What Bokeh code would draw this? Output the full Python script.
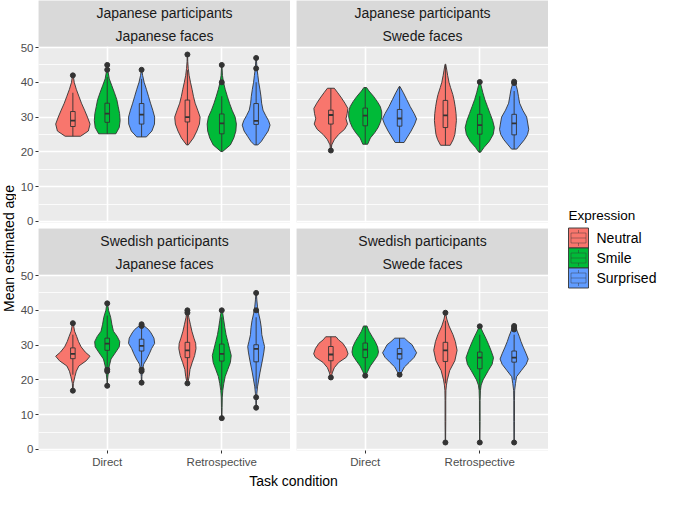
import numpy as np
from bokeh.plotting import figure
from bokeh.layouts import row, column
from bokeh.models import Range1d, FixedTicker, LinearAxis, Grid
from bokeh.core.properties import value
from bokeh.embed import file_html
from bokeh.resources import INLINE

FONT = "Liberation Sans"

# ---------------- data ----------------
conditions = ["Direct", "Retrospective"]
expressions = ["Neutral", "Smile", "Surprised"]
colors = ["#F8766D", "#00BA38", "#619CFF"]
participants = ["Japanese participants", "Swedish participants"]
faces = ["Japanese faces", "Swede faces"]
y_ticks = [0, 10, 20, 30, 40, 50]
y_minor = [5, 15, 25, 35, 45]

# order of violins in each panel: Direct-Neutral, Direct-Smile, Direct-Surprised,
# Retrospective-Neutral, Retrospective-Smile, Retrospective-Surprised
# box stats: (lower whisker, q1, median, q3, upper whisker)
jp_jf_box = [(24.5, 27.3, 29.0, 31.6, 37.0), (25.2, 28.5, 31.0, 34.0, 41.5),
             (24.3, 28.0, 30.7, 33.9, 41.0), (22.0, 28.6, 30.0, 34.9, 43.5),
             (20.1, 25.2, 28.2, 30.9, 36.0), (22.0, 27.9, 28.9, 33.9, 40.0)]
jp_jf_out = [[42.0], [43.6, 45.0], [43.6], [48.0], [40.0, 45.0], [44.0, 47.0]]
jp_jf_violin = [
    [(24.5, 0.45), (26, 0.9), (28, 1.0), (30, 0.85), (32, 0.68), (34, 0.5), (36, 0.35), (38, 0.2), (40, 0.08), (42, 0.02)],
    [(25.2, 0.5), (27, 0.7), (29, 0.75), (31, 0.72), (33, 0.64), (35, 0.56), (37, 0.42), (39, 0.27), (41, 0.12), (43, 0.05), (45, 0.01)],
    [(24.3, 0.28), (26, 0.6), (28, 0.75), (30, 0.76), (32, 0.65), (34, 0.52), (36, 0.4), (38, 0.28), (40, 0.15), (42, 0.06), (43.6, 0.01)],
    [(22, 0.05), (24, 0.35), (26, 0.55), (28, 0.7), (30, 0.74), (32, 0.6), (34, 0.45), (36, 0.35), (38, 0.27), (40, 0.18), (42, 0.1), (44, 0.05), (46, 0.02), (48, 0.01)],
    [(20.1, 0.05), (22, 0.5), (24, 0.7), (26, 0.82), (28, 0.85), (30, 0.78), (32, 0.6), (34, 0.45), (36, 0.32), (38, 0.2), (40, 0.1), (42, 0.04), (45, 0.01)],
    [(22, 0.1), (23, 0.3), (24.5, 0.5), (26, 0.7), (27.7, 0.81), (29, 0.72), (30.5, 0.55), (32, 0.4), (34, 0.32), (36, 0.28), (38, 0.22), (40, 0.15), (42, 0.1), (44, 0.05), (47, 0.01)],
]

jp_sf_box = [(21.5, 28.0, 30.6, 32.0, 38.3), (22.2, 27.5, 30.4, 32.6, 38.5),
             (22.7, 27.4, 29.6, 32.2, 38.8), (21.9, 27.0, 30.5, 34.8, 45.0),
             (19.9, 25.1, 27.7, 30.8, 36.0), (20.8, 24.9, 28.2, 30.8, 37.5)]
jp_sf_out = [[20.4], [], [], [], [40.1], [39.8, 40.2]]
jp_sf_violin = [
    [(20.4, 0.02), (22, 0.05), (23.5, 0.2), (25, 0.45), (26.5, 0.8), (28, 0.97), (29.5, 0.88), (31, 0.95), (32.5, 0.99), (34, 0.82), (35.5, 0.62), (37, 0.4), (38.3, 0.2)],
    [(22.2, 0.14), (24, 0.3), (25.5, 0.55), (27, 0.75), (28.5, 0.88), (30, 0.96), (31.5, 0.96), (33, 0.88), (34.5, 0.7), (36, 0.48), (37.5, 0.22), (38.5, 0.08)],
    [(22.7, 0.26), (24, 0.42), (26, 0.67), (28, 0.88), (29.5, 0.99), (31, 0.85), (33, 0.62), (35, 0.42), (37, 0.22), (38.8, 0.02)],
    [(21.9, 0.28), (23.5, 0.45), (25, 0.55), (27, 0.6), (29, 0.64), (31, 0.62), (33, 0.57), (35, 0.5), (36.5, 0.43), (38.5, 0.3), (40, 0.21), (42, 0.13), (43.5, 0.08), (45.2, 0.02)],
    [(19.9, 0.05), (21.3, 0.25), (23, 0.55), (25, 0.78), (27, 0.85), (29, 0.75), (31, 0.6), (33, 0.45), (35, 0.3), (37, 0.18), (39, 0.08), (40.1, 0.02)],
    [(20.8, 0.15), (22, 0.35), (23.5, 0.6), (25, 0.78), (26.5, 0.85), (28, 0.8), (30, 0.73), (32, 0.5), (34, 0.32), (36, 0.25), (38, 0.18), (40.2, 0.05)],
]

sw_jf_box = [(21.5, 26.1, 27.5, 29.2, 33.0), (24.0, 28.5, 30.4, 32.0, 38.5),
             (24.0, 28.3, 29.8, 31.7, 35.0), (20.0, 26.4, 28.5, 30.8, 38.5),
             (17.0, 25.4, 27.5, 30.3, 38.0), (17.5, 25.2, 28.9, 30.1, 38.0)]
sw_jf_out = [[16.9, 36.3], [18.3, 22.5, 23.0, 42.0], [19.2, 22.5, 23.0, 35.5, 36.0],
             [19.0, 39.3, 40.0], [9.0, 40.0], [12.0, 15.0, 40.0, 45.0]]
sw_jf_violin = [
    [(16.9, 0.01), (19, 0.03), (21, 0.12), (22.5, 0.2), (24, 0.35), (25.5, 0.78), (26.8, 1.0), (28, 0.72), (29.5, 0.48), (31, 0.33), (32.5, 0.22), (34, 0.1), (36.3, 0.02)],
    [(18.3, 0.01), (20, 0.02), (22, 0.06), (24, 0.12), (26, 0.22), (28, 0.5), (29.5, 0.7), (31, 0.73), (32.5, 0.58), (34, 0.36), (36, 0.27), (38, 0.2), (40, 0.08), (42, 0.02)],
    [(19.2, 0.01), (21, 0.02), (23, 0.06), (24.5, 0.12), (26, 0.3), (27.5, 0.45), (29, 0.58), (30.5, 0.76), (32, 0.72), (33.5, 0.55), (34.5, 0.4), (35.5, 0.15), (36, 0.02)],
    [(19, 0.02), (21, 0.1), (23, 0.15), (25, 0.28), (27, 0.42), (29, 0.5), (30.5, 0.48), (32, 0.38), (34, 0.26), (36, 0.17), (38, 0.08), (40.4, 0.02)],
    [(9, 0.01), (12, 0.02), (15, 0.03), (17, 0.06), (19, 0.12), (21, 0.2), (23, 0.35), (25, 0.5), (27, 0.55), (29, 0.45), (31, 0.35), (33, 0.25), (35, 0.18), (37, 0.12), (39, 0.06), (40.2, 0.02)],
    [(12, 0.01), (14, 0.02), (16, 0.04), (18, 0.08), (20, 0.15), (22, 0.22), (24, 0.3), (26, 0.38), (28, 0.45), (29.6, 0.49), (31, 0.42), (33, 0.33), (35, 0.3), (37, 0.24), (39, 0.15), (41, 0.08), (43, 0.04), (45.3, 0.01)],
]

sw_sf_box = [(22.0, 25.5, 27.3, 29.6, 32.4), (21.5, 26.4, 28.7, 30.6, 35.5),
             (22.5, 26.0, 27.5, 29.0, 32.0), (19.0, 25.3, 28.5, 30.8, 37.0),
             (17.0, 23.2, 26.4, 28.0, 33.0), (20.0, 25.1, 26.4, 28.3, 33.0)]
sw_sf_out = [[20.7], [21.2], [21.5], [2.0, 39.3], [2.0, 35.4], [2.0, 34.5, 35.0, 35.5]]
sw_sf_violin = [
    [(20.7, 0.02), (22, 0.08), (23.5, 0.2), (25, 0.45), (26.5, 0.9), (27.5, 1.0), (29, 0.9), (30.5, 0.7), (31.5, 0.45), (32.4, 0.3)],
    [(21.2, 0.03), (22.5, 0.15), (24, 0.3), (25.5, 0.52), (27, 0.72), (28, 0.77), (29.5, 0.72), (31, 0.58), (32.5, 0.4), (34, 0.22), (35.5, 0.1)],
    [(21.5, 0.05), (22.5, 0.15), (23.7, 0.28), (25, 0.55), (26.5, 0.85), (27.8, 0.99), (29, 0.85), (30.1, 0.73), (31, 0.5), (32, 0.28)],
    [(2.0, 0.01), (8, 0.02), (14, 0.02), (17, 0.03), (18.5, 0.06), (20, 0.11), (22.7, 0.25), (25.5, 0.55), (28.5, 0.68), (31, 0.58), (33, 0.44), (35.5, 0.21), (37.5, 0.08), (39.3, 0.01)],
    [(2.0, 0.01), (8, 0.02), (14, 0.02), (17, 0.04), (18.5, 0.08), (20, 0.19), (22.7, 0.5), (24.5, 0.72), (26.4, 0.8), (28.5, 0.65), (30.1, 0.52), (32, 0.35), (33.5, 0.2), (35.4, 0.02)],
    [(2.0, 0.01), (8, 0.02), (14, 0.02), (17, 0.03), (19, 0.08), (20.9, 0.14), (22.7, 0.42), (24.5, 0.7), (26, 0.82), (27.5, 0.7), (29.2, 0.55), (31, 0.4), (32.5, 0.3), (34, 0.18), (35.5, 0.05)],
]

panels = [
    (participants[0], faces[0], jp_jf_box, jp_jf_out, jp_jf_violin),
    (participants[0], faces[1], jp_sf_box, jp_sf_out, jp_sf_violin),
    (participants[1], faces[0], sw_jf_box, sw_jf_out, sw_jf_violin),
    (participants[1], faces[1], sw_sf_box, sw_sf_out, sw_sf_violin),
]

# ---------------- layout constants ----------------
PANEL_W, PANEL_H, STRIP_H = 252, 176, 46
LEFT_AX, GAP, BOTTOM_AX = 22, 6, 22
YLAB_W, LEG_W, XLAB_H = 16, 111, 16
TOTAL_H = STRIP_H + PANEL_H + GAP + STRIP_H + PANEL_H + BOTTOM_AX + XLAB_H

DODGE = 0.3
HALF_MAX = 0.15
BOX_HALF = 0.02
LINE_C = "#333333"

# shared y scale with ggplot-like 5% expansion
all_y = []
for _, _, bx, outs, vio in panels:
    for b in bx:
        all_y += list(b)
    for o in outs:
        all_y += o
    for v in vio:
        all_y += [yy for yy, _ in v]
y_min, y_max = min(all_y), max(all_y)
span = y_max - y_min
y_lo, y_hi = y_min - 0.05 * span, y_max + 0.05 * span
ppu = PANEL_H / (y_hi - y_lo)
strip_units = STRIP_H / ppu
y_top = y_hi + strip_units


def style_axis(ax):
    ax.axis_line_color = None
    ax.major_tick_line_color = LINE_C
    ax.major_tick_out = 3
    ax.major_tick_in = 0
    ax.minor_tick_line_color = None
    ax.major_label_standoff = 2
    ax.major_label_text_font = FONT
    ax.major_label_text_font_size = "11.5px"
    ax.major_label_text_color = "#4D4D4D"


def make_panel(idx):
    part, face, bx, outs, vio = panels[idx]
    is_left = idx % 2 == 0
    is_bottom = idx >= 2
    w = (LEFT_AX if is_left else GAP) + PANEL_W
    h = STRIP_H + PANEL_H + (BOTTOM_AX if is_bottom else GAP)
    p = figure(width=w, height=h, x_range=Range1d(0.4, 2.6), y_range=Range1d(y_lo, y_top),
               x_axis_location=None, y_axis_location=None, toolbar_location=None,
               output_backend="svg", min_border=0,
               min_border_left=(LEFT_AX if is_left else GAP),
               min_border_top=0,
               min_border_bottom=(BOTTOM_AX if is_bottom else GAP),
               min_border_right=0)
    p.xgrid.visible = False
    p.ygrid.visible = False
    p.background_fill_color = "#EBEBEB"
    p.border_fill_color = "white"
    p.outline_line_color = None

    p.add_layout(Grid(dimension=1, ticker=FixedTicker(ticks=y_ticks, minor_ticks=y_minor),
                      grid_line_color="white", grid_line_width=1.6,
                      minor_grid_line_color="white", minor_grid_line_width=0.8))
    p.add_layout(Grid(dimension=0, ticker=FixedTicker(ticks=[1, 2]),
                      grid_line_color="white", grid_line_width=1.6))

    # strip
    p.quad(left=[0.4], right=[2.6], bottom=[y_hi], top=[y_top],
           fill_color="#D9D9D9", line_color=None)
    p.text(x=[1.5, 1.5], y=[y_top - 12.7 / ppu, y_top - 35.2 / ppu], text=[part, face],
           text_font=value(FONT), text_font_size="14px", text_color="#1A1A1A",
           text_align="center", text_baseline="middle")

    xs, ys, fills = [], [], []
    bl, br, bb, bt, med, cx, wl, wh, ox, oy = [], [], [], [], [], [], [], [], [], []
    for ci in range(len(conditions)):
        for ei in range(len(expressions)):
            k = ci * 3 + ei
            c = ci + 1 + (ei - 1) * DODGE
            prof = vio[k]
            xs.append([c + wv * HALF_MAX for _, wv in prof] +
                      [c - wv * HALF_MAX for _, wv in reversed(prof)])
            ys.append([yv for yv, _ in prof] + [yv for yv, _ in reversed(prof)])
            fills.append(colors[ei])
            lo, q1, md, q3, hi = bx[k]
            bl.append(c - BOX_HALF); br.append(c + BOX_HALF)
            bb.append(q1); bt.append(q3); med.append(md)
            cx.append(c); wl.append(lo); wh.append(hi)
            for o in outs[k]:
                ox.append(c); oy.append(o)

    p.patches(xs=xs, ys=ys, fill_color=fills, line_color=LINE_C, line_width=0.9)
    p.segment(x0=cx, y0=wl, x1=cx, y1=bb, line_color=LINE_C, line_width=0.9)
    p.segment(x0=cx, y0=bt, x1=cx, y1=wh, line_color=LINE_C, line_width=0.9)
    p.quad(left=bl, right=br, bottom=bb, top=bt, fill_alpha=0,
           line_color=LINE_C, line_width=0.9)
    p.segment(x0=bl, y0=med, x1=br, y1=med, line_color=LINE_C, line_width=1.8)
    p.scatter(x=ox, y=oy, size=5, color=LINE_C)

    if is_left:
        ax = LinearAxis(ticker=FixedTicker(ticks=y_ticks))
        style_axis(ax)
        p.add_layout(ax, "left")
    if is_bottom:
        ax = LinearAxis(ticker=FixedTicker(ticks=[1, 2]),
                        major_label_overrides={1: conditions[0], 2: conditions[1]})
        style_axis(ax)
        p.add_layout(ax, "below")
    return p


figs = [make_panel(i) for i in range(4)]


def blank(w, h):
    f = figure(width=w, height=h, x_range=Range1d(0, w), y_range=Range1d(0, h),
               x_axis_location=None, y_axis_location=None, toolbar_location=None,
               output_backend="svg", min_border=0)
    f.xgrid.visible = False
    f.ygrid.visible = False
    f.outline_line_color = None
    f.background_fill_color = "white"
    f.border_fill_color = "white"
    return f


# y axis title (centered on the panel area, excluding the top strip)
panel_center = (STRIP_H + (STRIP_H + PANEL_H + GAP + STRIP_H + PANEL_H)) / 2
ylab = blank(YLAB_W, TOTAL_H)
ylab.text(x=[YLAB_W / 2], y=[TOTAL_H - panel_center], text=["Mean estimated age"],
          angle=np.pi / 2, text_font=value(FONT), text_font_size="14px",
          text_color="black", text_align="center", text_baseline="middle")

# x axis title
XLAB_W = LEFT_AX + PANEL_W + GAP + PANEL_W
xlab = blank(XLAB_W, XLAB_H)
xlab.text(x=[LEFT_AX + (PANEL_W + GAP + PANEL_W) / 2], y=[XLAB_H / 2], text=["Task condition"],
          text_font=value(FONT), text_font_size="14px", text_color="black",
          text_align="center", text_baseline="middle")

# legend
leg = blank(LEG_W, TOTAL_H)
kx0 = 20
title_y = TOTAL_H - (panel_center - 33.5)
leg.text(x=[kx0], y=[title_y], text=["Expression"], text_font=value(FONT),
         text_font_size="13.5px", text_color="black", text_align="left", text_baseline="middle")
key_top0 = panel_center - 20.5
for i, name in enumerate(expressions):
    top = TOTAL_H - (key_top0 + 20 * i)
    bot = top - 20
    leg.quad(left=[kx0], right=[kx0 + 20], bottom=[bot], top=[top],
             fill_color=colors[i], line_color=LINE_C, line_width=0.9)
    leg.quad(left=[kx0 + 2.5], right=[kx0 + 17.5], bottom=[bot + 5], top=[bot + 15],
             fill_alpha=0, line_color=LINE_C, line_alpha=0.55, line_width=0.8)
    leg.segment(x0=[kx0 + 2.5, kx0 + 10, kx0 + 10], y0=[bot + 10, bot + 2, bot + 15],
                x1=[kx0 + 17.5, kx0 + 10, kx0 + 10], y1=[bot + 10, bot + 5, bot + 18],
                line_color=LINE_C, line_alpha=0.55, line_width=0.8)
    leg.text(x=[kx0 + 28], y=[(top + bot) / 2], text=[name], text_font=value(FONT),
             text_font_size="14px", text_color="black", text_align="left",
             text_baseline="middle")

layout = row(ylab,
             column(row(figs[0], figs[1]), row(figs[2], figs[3]), xlab),
             leg)

open("out.html", "w").write(file_html(layout, INLINE))
